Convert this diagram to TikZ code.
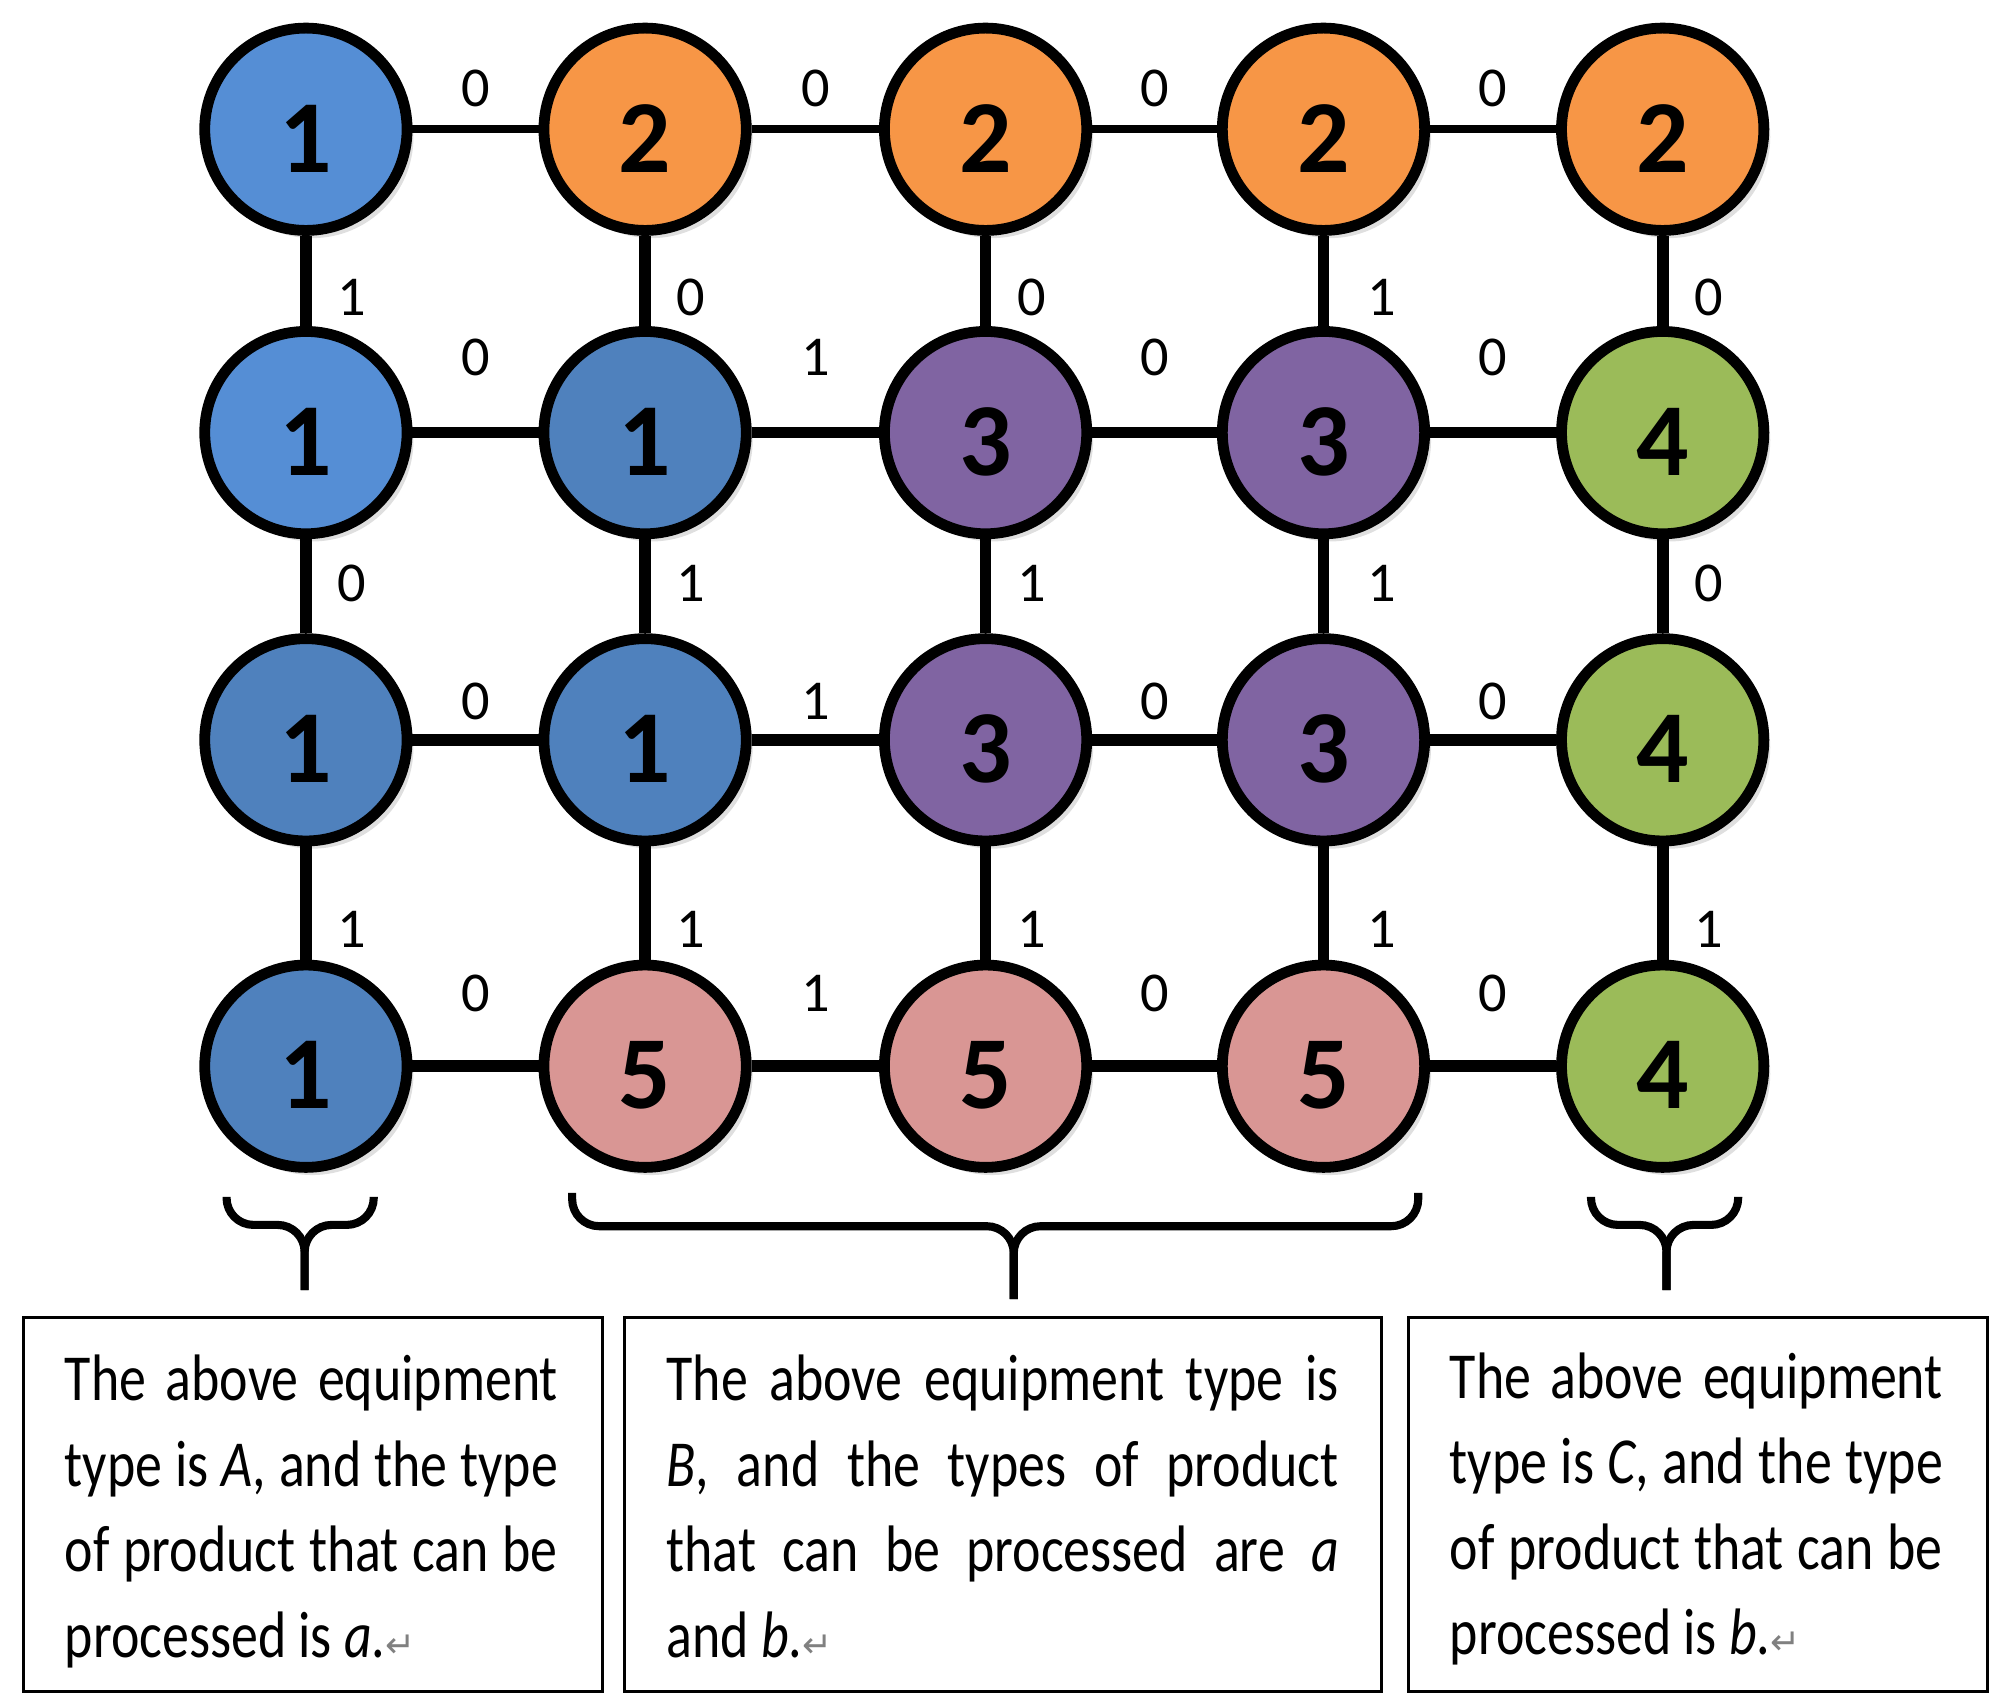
\documentclass[tikz,border=0pt]{standalone}
\usepackage{fontspec}
\setmainfont{Carlito}
\newfontfamily\boxfont[FakeStretch=0.82]{Carlito}
\newfontfamily\symfont{DejaVu Sans}
\usepackage{xcolor}
\usetikzlibrary{positioning,calc,shadows}

\definecolor{lightblue}{HTML}{558ED5}
\definecolor{darkblue}{HTML}{4F81BD}
\definecolor{orangeA}{HTML}{F79646}
\definecolor{purpleA}{HTML}{8064A2}
\definecolor{greenA}{HTML}{9BBB59}
\definecolor{pinkA}{HTML}{D99694}

\newcommand{\retmark}{{\color{gray}\symfont\fontsize{8}{8}\selectfont ↵}}

\tikzset{
  machine/.style={circle, draw=black, line width=2.4pt, minimum size=1.58cm, inner sep=0pt,
    font=\fontsize{23}{23}\selectfont\bfseries, text height=19pt, text depth=0pt,
    drop shadow={opacity=0.25, shadow xshift=0.05cm, shadow yshift=-0.06cm}},
  link/.style={line width=2.6pt},
  toplink/.style={line width=1.8pt},
  weight/.style={font=\fontsize{12.5}{12.5}\selectfont, inner sep=0pt},
  brace/.style={line width=1.8pt, rounded corners=6pt},
  infobox/.style={draw, line width=0.7pt, inner sep=0pt},
  boxtext/.style={font=\boxfont\fontsize{14.6}{19}\selectfont, align=justify, inner sep=0pt, anchor=north west},
}

\begin{document}
\begin{tikzpicture}[x=0.01cm, y=-0.01cm]
    \useasboundingbox (0,0) rectangle (1568,1334);

    % Machines, row 1
    \node [machine, fill=lightblue] (r1c1) at (239,101) {1};
    \node [machine, fill=orangeA] (r1c2) at (504,101) {2};
    \node [machine, fill=orangeA] (r1c3) at (770,101) {2};
    \node [machine, fill=orangeA] (r1c4) at (1034,101) {2};
    \node [machine, fill=orangeA] (r1c5) at (1299,101) {2};

    % Machines, row 2
    \node [machine, fill=lightblue] (r2c1) at (239,338) {1};
    \node [machine, fill=darkblue] (r2c2) at (504,338) {1};
    \node [machine, fill=purpleA] (r2c3) at (770,338) {3};
    \node [machine, fill=purpleA] (r2c4) at (1034,338) {3};
    \node [machine, fill=greenA] (r2c5) at (1299,338) {4};

    % Machines, row 3
    \node [machine, fill=darkblue] (r3c1) at (239,578) {1};
    \node [machine, fill=darkblue] (r3c2) at (504,578) {1};
    \node [machine, fill=purpleA] (r3c3) at (770,578) {3};
    \node [machine, fill=purpleA] (r3c4) at (1034,578) {3};
    \node [machine, fill=greenA] (r3c5) at (1299,578) {4};

    % Machines, row 4
    \node [machine, fill=darkblue] (r4c1) at (239,833) {1};
    \node [machine, fill=pinkA] (r4c2) at (504,833) {5};
    \node [machine, fill=pinkA] (r4c3) at (770,833) {5};
    \node [machine, fill=pinkA] (r4c4) at (1034,833) {5};
    \node [machine, fill=greenA] (r4c5) at (1299,833) {4};

    % Horizontal links
    \draw [toplink] (r1c1) -- node [weight, above=0.14cm] {0} (r1c2);
    \draw [toplink] (r1c2) -- node [weight, above=0.14cm] {0} (r1c3);
    \draw [toplink] (r1c3) -- node [weight, above=0.14cm] {0} (r1c4);
    \draw [toplink] (r1c4) -- node [weight, above=0.14cm] {0} (r1c5);

    \draw [link] (r2c1) -- node [weight, above=0.40cm] {0} (r2c2);
    \draw [link] (r2c2) -- node [weight, above=0.40cm] {1} (r2c3);
    \draw [link] (r2c3) -- node [weight, above=0.40cm] {0} (r2c4);
    \draw [link] (r2c4) -- node [weight, above=0.40cm] {0} (r2c5);

    \draw [link] (r3c1) -- node [weight, above=0.11cm] {0} (r3c2);
    \draw [link] (r3c2) -- node [weight, above=0.11cm] {1} (r3c3);
    \draw [link] (r3c3) -- node [weight, above=0.11cm] {0} (r3c4);
    \draw [link] (r3c4) -- node [weight, above=0.11cm] {0} (r3c5);

    \draw [link] (r4c1) -- node [weight, above=0.38cm] {0} (r4c2);
    \draw [link] (r4c2) -- node [weight, above=0.38cm] {1} (r4c3);
    \draw [link] (r4c3) -- node [weight, above=0.38cm] {0} (r4c4);
    \draw [link] (r4c4) -- node [weight, above=0.38cm] {0} (r4c5);

    % Vertical links
    \draw [link] (r1c1) -- node [weight, pos=0.68, right=0.2cm] {1} (r2c1);
    \draw [link] (r1c2) -- node [weight, pos=0.68, right=0.2cm] {0} (r2c2);
    \draw [link] (r1c3) -- node [weight, pos=0.68, right=0.2cm] {0} (r2c3);
    \draw [link] (r1c4) -- node [weight, pos=0.68, right=0.3cm] {1} (r2c4);
    \draw [link] (r1c5) -- node [weight, pos=0.68, right=0.2cm] {0} (r2c5);

    \draw [link] (r2c1) -- node [weight, pos=0.47, right=0.2cm] {0} (r3c1);
    \draw [link] (r2c2) -- node [weight, pos=0.47, right=0.2cm] {1} (r3c2);
    \draw [link] (r2c3) -- node [weight, pos=0.47, right=0.2cm] {1} (r3c3);
    \draw [link] (r2c4) -- node [weight, pos=0.47, right=0.3cm] {1} (r3c4);
    \draw [link] (r2c5) -- node [weight, pos=0.47, right=0.2cm] {0} (r3c5);

    \draw [link] (r3c1) -- node [weight, pos=0.73, right=0.2cm] {1} (r4c1);
    \draw [link] (r3c2) -- node [weight, pos=0.73, right=0.2cm] {1} (r4c2);
    \draw [link] (r3c3) -- node [weight, pos=0.73, right=0.2cm] {1} (r4c3);
    \draw [link] (r3c4) -- node [weight, pos=0.73, right=0.3cm] {1} (r4c4);
    \draw [link] (r3c5) -- node [weight, pos=0.73, right=0.2cm] {1} (r4c5);

    % Braces
    \draw [brace] (177,935) |- (238,957) -- (238,1008);
    \draw [brace] (292,935) |- (238,957) -- (238,1008);
    \draw [brace] (447,932) |- (792,958) -- (792,1015);
    \draw [brace] (1108,932) |- (792,958) -- (792,1015);
    \draw [brace] (1243,935) |- (1302,957) -- (1302,1008);
    \draw [brace] (1358,935) |- (1302,957) -- (1302,1008);

    % Boxes
    \node [infobox, minimum width=4.52cm, minimum height=2.92cm, anchor=north west] (boxA) at (17,1028) {};
    \node [infobox, minimum width=5.91cm, minimum height=2.92cm, anchor=north west] (boxB) at (487,1028) {};
    \node [infobox, minimum width=4.52cm, minimum height=2.92cm, anchor=north west] (boxC) at (1099,1028) {};

    % Box texts
    \node [boxtext, text width=3.85cm] (textA) at ($(boxA.north west)+(33,30)$)
      {The above equipment\linebreak type is \textit{A}, and the type\linebreak of product that can be\linebreak processed is \textit{a}.\retmark};
    \node [boxtext, text width=5.25cm] (textB) at ($(boxB.north west)+(33,30)$)
      {The above equipment type is\linebreak \textit{B}, and the types of product\linebreak that can be processed are \textit{a}\linebreak and \textit{b}.\retmark};
    \node [boxtext, text width=3.85cm] (textC) at ($(boxC.north west)+(33,28)$)
      {The above equipment\linebreak type is \textit{C}, and the type\linebreak of product that can be\linebreak processed is \textit{b}.\retmark};
\end{tikzpicture}
\end{document}
